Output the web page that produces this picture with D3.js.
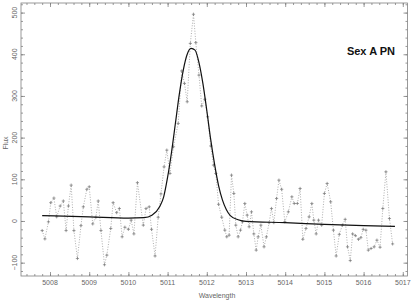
<!DOCTYPE html>
<html>
<head>
<meta charset="utf-8">
<script src="https://cdnjs.cloudflare.com/ajax/libs/d3/7.8.5/d3.min.js"></script>
<style>
  body { margin: 0; background: #fff; }
  svg { display: block; }
</style>
</head>
<body>
<svg width="415" height="300"></svg>
<script>
const wavelength = [
  5007.80, 5007.87, 5007.96, 5008.02, 5008.10, 5008.17, 5008.26, 5008.34, 5008.41, 5008.47,
  5008.54, 5008.61, 5008.70, 5008.79, 5008.85, 5008.94, 5009.00, 5009.09, 5009.17, 5009.23,
  5009.30, 5009.39, 5009.45, 5009.55, 5009.61, 5009.70, 5009.77, 5009.84, 5009.91, 5010.00,
  5010.07, 5010.14, 5010.23, 5010.38, 5010.45, 5010.53, 5010.59, 5010.68, 5010.76, 5010.83,
  5010.91, 5010.98, 5011.06, 5011.15, 5011.27, 5011.36, 5011.43, 5011.50, 5011.58, 5011.66,
  5011.72, 5011.80, 5011.87, 5011.95, 5012.02, 5012.10, 5012.17, 5012.23, 5012.30, 5012.38,
  5012.46, 5012.51, 5012.57, 5012.63, 5012.69, 5012.74, 5012.80, 5012.86, 5012.91, 5012.97,
  5013.03, 5013.08, 5013.14, 5013.20, 5013.26, 5013.31, 5013.38, 5013.46, 5013.52, 5013.59,
  5013.65, 5013.71, 5013.78, 5013.84, 5013.91, 5013.99, 5014.08, 5014.17, 5014.23, 5014.31,
  5014.38, 5014.45, 5014.53, 5014.61, 5014.68, 5014.73, 5014.79, 5014.85, 5014.93, 5015.00,
  5015.07, 5015.16, 5015.23, 5015.30, 5015.38, 5015.46, 5015.53, 5015.59, 5015.66, 5015.72,
  5015.79, 5015.87, 5015.93, 5015.99, 5016.06, 5016.12, 5016.19, 5016.27, 5016.34, 5016.42,
  5016.49, 5016.57, 5016.66, 5016.74
]
const flux = [
  -23, -43, -2, 44, 55, 10, 36, 48, -23, 36,
  86, -23, -90, -11, 34, 76, 82, -7, 9, 48,
  -23, -105, -82, -18, 44, 20, 30, -38, -15, -20,
  2, -31, 92, -10, 30, 34, -20, -84, 9, 65,
  130, 170, 114, 178, 234, 360, 330, 286, 426, 496,
  428, 350, 276, 292, 250, 180, 134, 114, 40, 9,
  -22, -38, -34, 110, 66, -10, -38, -22, -2, 42,
  14, -14, 22, -31, -70, -38, -10, -62, -38, -4,
  30, -4, 54, 98, 76, -2, 22, 58, 42, 42,
  78, -44, -18, 10, 42, 2, -31, 2, -10, 66,
  90, 46, -22, -84, -32, -10, 4, -62, -95, -31,
  -35, -44, -40, -20, -22, -70, -66, -62, -46, -63,
  30, 118, 6, -55
]

// fitted line (gaussian + continuum)
const fitWave = [5007.8, 5009.0, 5010.0, 5010.4, 5010.6, 5010.8, 5010.9, 5011.0, 5011.1, 5011.2,
  5011.3, 5011.4, 5011.5, 5011.6, 5011.7, 5011.8, 5011.9, 5012.0, 5012.1, 5012.2,
  5012.3, 5012.4, 5012.5, 5012.6, 5012.8, 5013.0, 5014.0, 5015.0, 5016.0, 5016.8]
const fitFlux = [13, 10, 7, 8, 14, 35, 58, 105, 165, 235,
  305, 362, 400, 414, 410, 380, 330, 265, 195, 135,
  85, 50, 27, 13, 3, -1, -4, -8, -11, -13]

const xTicks = [5008, 5009, 5010, 5011, 5012, 5013, 5014, 5015, 5016, 5017]
const yTicks = [-100, 0, 100, 200, 300, 400, 500]

var svg = d3.select("svg")
const plotL = 21, plotR = 407.5, plotT = 3, plotB = 276
const frameColor = "#808080"
const textColor = "#666"

var x = d3.scaleLinear().domain([5007.26, 5017.12]).range([plotL, plotR])
var y = d3.scaleLinear().domain([-132, 523]).range([plotB, plotT])

// minor ticks every 0.2 A and 20 flux units
const xMinor = d3.range(5007.4, 5017.1, 0.2)
const yMinor = d3.range(-120, 521, 20)

function tickAxis(axisFn, scale, vals, size, pos) {
  var g = svg.append("g").attr("transform", pos)
    .call(axisFn(scale).tickValues(vals).tickSize(size).tickFormat(""))
  g.select(".domain").remove()
  g.selectAll("line").attr("stroke", frameColor).attr("stroke-width", 0.8)
}

// ticks point inward on all four sides
tickAxis(d3.axisTop, x, xMinor, 2, `translate(0,${plotB})`)
tickAxis(d3.axisTop, x, xTicks, 4, `translate(0,${plotB})`)
tickAxis(d3.axisBottom, x, xMinor, 2, `translate(0,${plotT})`)
tickAxis(d3.axisBottom, x, xTicks, 4, `translate(0,${plotT})`)
tickAxis(d3.axisRight, y, yMinor, 2, `translate(${plotL},0)`)
tickAxis(d3.axisRight, y, yTicks, 4, `translate(${plotL},0)`)
tickAxis(d3.axisLeft, y, yMinor, 2, `translate(${plotR},0)`)
tickAxis(d3.axisLeft, y, yTicks, 4, `translate(${plotR},0)`)

svg.append("rect")
  .attr("x", plotL).attr("y", plotT)
  .attr("width", plotR - plotL).attr("height", plotB - plotT)
  .attr("fill", "none").attr("stroke", frameColor).attr("stroke-width", 0.8)

// tick labels
svg.append("g").selectAll("text")
  .data(xTicks).enter().append("text")
  .attr("x", d => x(d)).attr("y", 285)
  .attr("text-anchor", "middle")
  .attr("font-family", "Liberation Sans, Arial, sans-serif")
  .attr("font-size", "7px").attr("fill", textColor)
  .text(d => d)

svg.append("g").selectAll("text")
  .data(yTicks).enter().append("text")
  .attr("transform", d => `translate(17,${y(d)}) rotate(-90)`)
  .attr("text-anchor", "middle")
  .attr("font-family", "Liberation Sans, Arial, sans-serif")
  .attr("font-size", "7px").attr("fill", textColor)
  .text(d => d < 0 ? "\u2212" + Math.abs(d) : d)

svg.append("text")
  .attr("x", 217).attr("y", 297.5)
  .attr("text-anchor", "middle")
  .attr("font-family", "Liberation Sans, Arial, sans-serif")
  .attr("font-size", "7px").attr("fill", textColor)
  .text("Wavelength")

svg.append("text")
  .attr("transform", "translate(8,143) rotate(-90)")
  .attr("text-anchor", "middle")
  .attr("font-family", "Liberation Sans, Arial, sans-serif")
  .attr("font-size", "7px").attr("fill", textColor)
  .text("Flux")

svg.append("text")
  .attr("x", 395).attr("y", 55)
  .attr("text-anchor", "end")
  .attr("font-family", "Liberation Sans, Arial, sans-serif")
  .attr("font-size", "11px").attr("font-weight", "bold").attr("fill", "#111")
  .text("Sex A PN")

// observed data: dotted line with + markers
const obs = wavelength.map((w, i) => ({w: w, f: flux[i]}))
var dataLine = d3.line().x(d => x(d.w)).y(d => y(d.f))

svg.append("path")
  .datum(obs)
  .attr("d", dataLine)
  .attr("fill", "none")
  .attr("stroke", "#999")
  .attr("stroke-width", 0.8)
  .attr("stroke-dasharray", "1,1.6")

svg.append("g").selectAll("path")
  .data(obs).enter().append("path")
  .attr("d", d => {
    const px = x(d.w), py = y(d.f)
    return `M${px - 1.6},${py}H${px + 1.6}M${px},${py - 1.6}V${py + 1.6}`
  })
  .attr("stroke", "#777").attr("stroke-width", 0.7)

// fitted profile
const fit = fitWave.map((w, i) => ({w: w, f: fitFlux[i]}))
svg.append("path")
  .datum(fit)
  .attr("d", d3.line().x(d => x(d.w)).y(d => y(d.f)).curve(d3.curveMonotoneX))
  .attr("fill", "none")
  .attr("stroke", "#111")
  .attr("stroke-width", 1.2)
</script>
</body>
</html>
